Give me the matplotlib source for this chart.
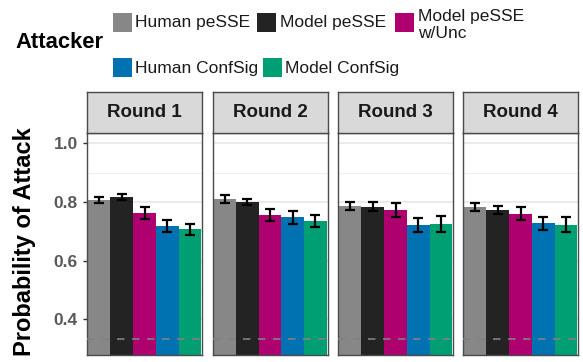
import matplotlib
matplotlib.use("Agg")
import matplotlib.pyplot as plt
from matplotlib.patches import Rectangle

plt.rcParams['font.family'] = ['Liberation Sans', 'DejaVu Sans']

rounds = ["Round 1", "Round 2", "Round 3", "Round 4"]
attackers = ["Human peSSE", "Model peSSE", "Model peSSE\nw/Unc", "Human ConfSig", "Model ConfSig"]
colors = ["#878787", "#232323", "#AF0070", "#0072B2", "#009E73"]
values = [
    [0.806, 0.816, 0.762, 0.717, 0.706],
    [0.809, 0.799, 0.755, 0.747, 0.735],
    [0.785, 0.784, 0.773, 0.722, 0.725],
    [0.782, 0.772, 0.759, 0.727, 0.722],
]
errors = [
    [0.011, 0.010, 0.019, 0.021, 0.020],
    [0.013, 0.011, 0.020, 0.021, 0.020],
    [0.014, 0.015, 0.023, 0.024, 0.026],
    [0.014, 0.014, 0.022, 0.023, 0.025],
]
chance = 1 / 3
yticks = [0.4, 0.6, 0.8, 1.0]
minor = [0.3, 0.5, 0.7, 0.9]

W, H = 583, 362
fig = plt.figure(figsize=(W / 100, H / 100), dpi=100)

def fx(px):
    return px / W

def fy(py):
    return 1 - py / H

panel_left = [87, 212.5, 338, 463]
pw = 115
ptop, pbot, stop = 133, 355, 92
ymin, ymax = 0.278, 1.035
edge = "#4a4a4a"

for i, r in enumerate(rounds):
    ax = fig.add_axes([fx(panel_left[i]), fy(pbot), pw / W, (pbot - ptop) / H])
    for y in minor:
        ax.axhline(y, color="#EBEBEB", lw=0.6, zorder=0)
    for y in yticks:
        ax.axhline(y, color="#E6E6E6", lw=1.1, zorder=0)
    x = list(range(len(attackers)))
    ax.bar(x, values[i], width=1.0, bottom=0, color=colors, zorder=2)
    ax.errorbar(x, values[i], yerr=errors[i], fmt="none", ecolor="black",
                elinewidth=1.6, capsize=3.3, capthick=1.6, zorder=3)
    ax.axhline(chance, color="#808080", lw=1.2, ls=(0, (4.5, 4.5)), zorder=4)
    ax.set_xlim(-0.53, 4.53)
    ax.set_ylim(ymin, ymax)
    ax.set_xticks([])
    for s in ax.spines.values():
        s.set_color(edge)
        s.set_linewidth(1.0)
    if i == 0:
        ax.set_yticks(yticks)
        ax.set_yticklabels([f"{v:.1f}" for v in yticks], fontsize=12.5,
                           fontweight="bold", color="#5a5a5a")
        ax.tick_params(axis="y", length=3, width=1, color="#333333", pad=3.5)
    else:
        ax.set_yticks([])
    # strip
    sx = fig.add_axes([fx(panel_left[i]), fy(ptop), pw / W, (ptop - stop) / H])
    sx.set_facecolor("#D9D9D9")
    sx.set_xticks([]); sx.set_yticks([])
    for s in sx.spines.values():
        s.set_color(edge)
        s.set_linewidth(1.0)
    sx.text(0.5, 0.5, r, ha="center", va="center", fontsize=13.5,
            fontweight="bold", color="#1a1a1a", transform=sx.transAxes)

fig.text(fx(25), fy(242), "Probability of Attack", rotation=90, ha="center",
         va="center", fontsize=17, fontweight="bold", color="black")

# legend
fig.text(fx(15), fy(43), "Attacker", ha="left", va="center", fontsize=15.8,
         fontweight="bold")
key_pos = [(113, 13), (257, 13), (395, 13), (113, 58), (263, 58)]
text_pos = [(135, 23), (280, 23), (418, 25), (135, 68), (285, 68)]
for k in range(len(attackers)):
    kx, ky = key_pos[k]
    fig.patches.append(Rectangle((fx(kx), fy(ky + 19)), 19 / W, 19 / H,
                                 transform=fig.transFigure, facecolor=colors[k],
                                 edgecolor="none"))
    tx, ty = text_pos[k]
    fig.text(fx(tx), fy(ty), attackers[k], ha="left", va="center", fontsize=12.5,
             color="#1a1a1a", linespacing=1.12)

fig.savefig("out.png", dpi=100)
